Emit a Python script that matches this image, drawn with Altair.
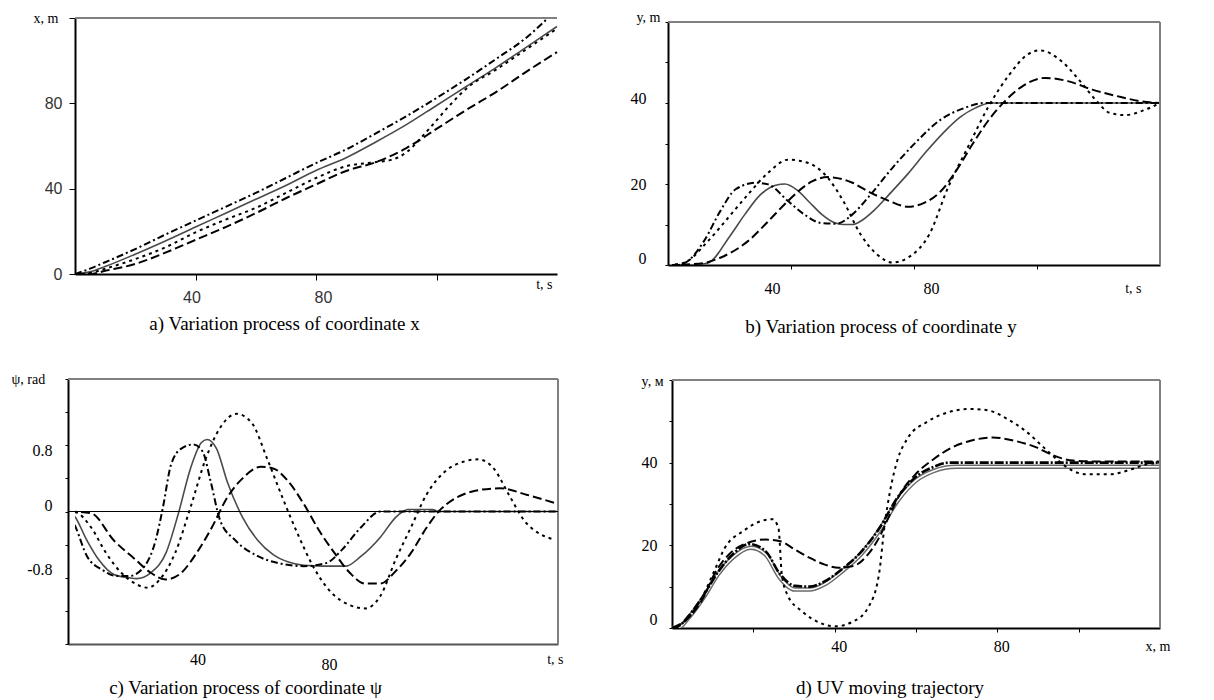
import altair as alt
import pandas as pd

SERIF = "Liberation Serif"
SANS = "Liberation Sans"

# ---------------- Panel a: x(t) ----------------
a_t = [0, 5, 10, 20, 30, 40, 50, 60, 70, 80, 90, 100, 110, 120, 130, 140, 150, 160]
a_ref = [0, 1, 3.5, 9.3, 15.5, 22, 28.5, 35, 41.5, 48.5, 54.5, 62, 70, 79, 88, 97, 106.5, 116]
a_ld = [0, 0, 1.5, 4.7, 10, 16, 22, 28.5, 35.5, 42, 48.3, 52.5, 59, 68, 77, 85.5, 95, 104]
a_dd_t = [0, 5, 10, 20, 30, 40, 50, 60, 70, 80, 90, 100, 110, 120, 130, 140, 150, 157]
a_dd = [0, 2.5, 5.5, 11.7, 18.5, 25, 31.5, 38, 45, 52, 58.4, 66, 74, 82.5, 91.5, 101, 111, 120]
a_dt_t = [0, 5, 10, 20, 30, 40, 50, 60, 70, 80, 90, 100, 105, 110, 115, 120, 125, 130, 140, 150, 160]
a_dt = [0, 0.5, 2.5, 7, 12.5, 19.5, 25.5, 31, 38, 45, 50.5, 52.5, 53.5, 57, 64, 72, 80, 87, 96, 105.5, 115]

# ---------------- Panel b: y(t) ----------------
b_ref_t = [0, 8, 13, 20, 25, 30, 35, 38, 42, 46, 50, 54, 57, 60, 63, 67, 72, 78, 84, 90, 95, 100, 105, 160]
b_ref = [0, 0, 0.5, 7, 12.5, 17.3, 19.7, 20, 18.5, 15.5, 12.5, 10.5, 10, 10, 11, 13.5, 17.5, 22.5, 28, 33, 36.5, 38.8, 40, 40]
b_dd_t = [0, 3, 6.5, 11.7, 17, 22, 28.7, 32.6, 39, 44.3, 49.6, 54.8, 60, 65, 73, 81, 88.7, 96.5, 103, 160]
b_dd = [0, 0, 1, 5.9, 13.3, 18.7, 20.3, 19.9, 15.8, 12.5, 10.4, 10.2, 12.5, 16.6, 24, 30.6, 35.9, 38.8, 40, 40]
b_ld_t = [0, 10, 17, 26, 32.6, 39, 47, 52, 60, 65, 72, 78, 83.5, 88.7, 94, 99, 104, 109.5, 115, 122.6, 130, 138, 146, 154, 160]
b_ld = [0, 0.3, 1.8, 5.9, 10.8, 15.8, 20.7, 21.7, 20.3, 18.2, 15.8, 14.4, 15.4, 18.2, 23.6, 29.8, 35.5, 40.4, 44, 46.2, 45.4, 43.3, 41.7, 40.4, 40]
b_dt_t = [0, 5, 13, 19.6, 26, 32.6, 39, 45.6, 52, 57, 62.6, 68, 73, 78, 85, 91, 98, 104, 111, 117, 121, 128, 134, 139.5, 143.5, 148.7, 154, 160]
b_dt = [0, 0.5, 5.9, 11.7, 17.4, 22.8, 26, 25.2, 21.5, 15.8, 7.6, 2.6, 0.6, 1.8, 7.6, 19, 29.8, 38.8, 47, 52, 53, 50.3, 45.4, 40.4, 37.6, 37, 38, 40]

# ---------------- Panel c: psi(t) ----------------
c_ref_t = [0, 2, 6.2, 10, 15, 20, 22.4, 27, 32, 36, 40, 43.5, 45.4, 48.5, 52, 57, 62, 67, 72, 77, 83, 90.7, 95.7, 102, 107, 109.4, 111, 119, 121, 160]
c_ref = [0, -0.05, -0.35, -0.58, -0.76, -0.8, -0.81, -0.74, -0.5, -0.03, 0.52, 0.83, 0.87, 0.76, 0.36, -0.07, -0.35, -0.52, -0.61, -0.65, -0.66, -0.66, -0.54, -0.31, -0.07, 0, 0.025, 0.025, 0, 0]
c_dd_t = [0, 2.5, 6.2, 11, 16, 20, 25, 28.6, 31, 33.6, 37, 41, 44, 46.6, 49.7, 54.7, 62, 69.6, 77, 84.5, 89.5, 95.7, 102, 160]
c_dd = [0, -0.19, -0.54, -0.7, -0.78, -0.78, -0.66, -0.35, 0.05, 0.56, 0.76, 0.81, 0.72, 0.36, -0.11, -0.35, -0.54, -0.63, -0.66, -0.62, -0.46, -0.19, 0, 0]
c_ld_t = [0, 7.5, 15, 22, 27, 32, 37, 42, 47, 52, 57, 63, 67, 72, 77, 82, 87, 92, 97, 102, 107, 112, 117, 121, 126, 133, 141, 150, 160]
c_ld = [0, -0.02, -0.35, -0.58, -0.74, -0.82, -0.74, -0.5, -0.19, 0.17, 0.4, 0.54, 0.52, 0.36, 0.09, -0.23, -0.5, -0.74, -0.87, -0.87, -0.72, -0.5, -0.2, 0, 0.15, 0.25, 0.28, 0.2, 0.09]
c_dt_t = [0, 2.5, 7.5, 12.4, 17.4, 22.4, 26, 30, 35, 40, 45, 50, 55, 60, 65, 70, 75, 80, 86, 92, 97, 102, 107, 112, 117, 123, 129, 134, 139, 144, 149, 154, 158]
c_dt = [0, -0.01, -0.19, -0.5, -0.74, -0.88, -0.92, -0.82, -0.5, 0.05, 0.64, 1.03, 1.18, 1.07, 0.64, 0.17, -0.27, -0.66, -0.98, -1.13, -1.17, -1.02, -0.58, -0.19, 0.2, 0.48, 0.6, 0.63, 0.52, 0.2, -0.11, -0.27, -0.33]

# ---------------- Panel d: trajectory y(x) ----------------
d_ref_x = [0, 1.4, 4, 7.7, 11.3, 14.9, 19.4, 23, 26.6, 30.2, 33.8, 37.4, 41.9, 46.4, 50.9, 55.4, 59.9, 64.4, 69.8, 120]
d_ref = [0, 0, 2.4, 7.3, 13, 17, 19.4, 17.8, 12.1, 9.3, 9.3, 10.5, 13.8, 17.8, 23.5, 30.7, 35.6, 38, 39, 39]
d_dd_x = [0, 1.4, 4, 7.7, 11.3, 14.9, 19, 23, 26.6, 30.2, 33.8, 37.4, 41.9, 46.4, 50.9, 55.4, 59.9, 64.4, 68, 120]
d_dd = [0, 0.3, 2.8, 7.8, 13.5, 17.8, 20.3, 18.6, 13, 10.2, 10, 11.2, 14.3, 18.3, 24, 31.5, 36.5, 39, 40, 40]
d_ld_x = [0, 4, 7.7, 10.4, 14, 17.6, 23, 26.6, 30.2, 33.8, 37.4, 41, 44.6, 48.2, 50.9, 53.6, 56.3, 59.9, 64.4, 68.9, 73.4, 78.8, 84.2, 89.6, 93.2, 98.6, 104, 120]
d_ld = [0, 2.4, 7.3, 13, 17.8, 20.2, 21.4, 21, 19, 17, 15.4, 14.6, 15, 17.8, 21.8, 27.5, 32.8, 37.2, 40.9, 43.7, 45.3, 46.1, 45.3, 43.7, 42, 40.5, 40.3, 40.3]
d_dt_x = [0, 4, 7.7, 10.4, 13, 17.6, 22, 24.8, 26.2, 27, 28.4, 32, 36.5, 40, 44.6, 48.2, 50.9, 52.3, 53.6, 55.4, 58, 62.6, 68, 73.4, 78, 82.4, 86.9, 91.4, 95, 98.6, 102, 107.7, 113, 116.7, 120]
d_dt = [0, 2.4, 8, 13.8, 19.4, 23.5, 25.9, 26.3, 24, 13, 8, 4, 1.2, 0.4, 1.6, 4.9, 13, 25, 33, 40.5, 46, 49.8, 52.2, 53, 52.6, 50.6, 47.7, 43.7, 40.5, 38, 37.2, 37.2, 38.4, 39.6, 40]

# axis / domain settings
t_domain = [0, 160]
a_ydomain = [0, 120]
b_ydomain = [0, 60]
c_ydomain = [-1.6, 1.6]
d_xdomain = [0, 120]
d_ydomain = [0, 60]

STY = {
    "ref": {"color": "#4a4a4a", "strokeWidth": 1.6},
    "dd": {"color": "black", "strokeWidth": 2.0, "strokeDash": [7, 3, 2, 3]},
    "ld": {"color": "black", "strokeWidth": 2.0, "strokeDash": [9, 4]},
    "dt": {"color": "black", "strokeWidth": 2.0, "strokeDash": [3, 4]},
}


def df_of(xs, ys):
    return pd.DataFrame({"x": xs, "y": ys})


def frame_df(xd, yd, right=True):
    rows = [{"x": xd[0], "x2": xd[1], "y": yd[1], "y2": yd[1]}]
    if right:
        rows.append({"x": xd[1], "x2": xd[1], "y": yd[0], "y2": yd[1]})
    return pd.DataFrame(rows)


def panel(series, xs, ys, xax, yax, frame, width, height, caption, extra=None):
    layers = []
    X = alt.X("x:Q", scale=xs, axis=xax)
    Y = alt.Y("y:Q", scale=ys, axis=yax)
    for xv, yv, st in series:
        layers.append(
            alt.Chart(df_of(xv, yv)).mark_line(interpolate="monotone", clip=True, **st).encode(x=X, y=Y)
        )
    layers.append(
        alt.Chart(frame).mark_rule(color="#808080", strokeWidth=2).encode(x=X, x2="x2:Q", y=Y, y2="y2:Q")
    )
    if extra is not None:
        layers.append(
            alt.Chart(extra).mark_rule(color="black", strokeWidth=1).encode(x=X, x2="x2:Q", y=Y, y2="y2:Q")
        )
    return alt.layer(*layers).properties(width=width, height=height, title=caption)


def cap(text, dx, offset):
    return alt.TitleParams(text=text, orient="bottom", anchor="middle", frame="group", dx=dx, offset=offset,
                           baseline="top", font=SERIF, fontSize=19, fontWeight="normal", color="black")


common_axis = dict(grid=False, domainColor="black", domainWidth=2, tickColor="black", tickWidth=1,
                   titleFontWeight="normal", titleAngle=0, titleBaseline="middle", titleColor="black",
                   titleFont=SERIF, titleFontSize=14, labelColor="black")

# ---- panel a ----
W1 = 483
W2 = 488
xa_axis = alt.Axis(values=[40, 80, 120], labelExpr="datum.value == 40 || datum.value == 80 ? datum.label : ''",
                   tickSize=6, labelPadding=9, labelFont=SANS, labelFontSize=16, labelColor="#333333",
                   labelOffset={"condition": {"test": "datum.value == 40", "value": -4}, "value": 7},
                   title="t, s", titleX=477, titleY=10, titleAlign="right",
                   **{k: v for k, v in common_axis.items() if k != "labelColor"})
ya_axis = alt.Axis(values=[0, 40, 80, 120], labelExpr="datum.value < 100 ? datum.label : ''",
                   tickSize=6, labelPadding=7, labelFont=SANS, labelFontSize=16, labelColor="#333333",
                   title="x, m", titleX=-17, titleY=0, titleAlign="right",
                   **{k: v for k, v in common_axis.items() if k != "labelColor"})
pa = panel([(a_t, a_ref, STY["ref"]), (a_dd_t, a_dd, STY["dd"]), (a_t, a_ld, STY["ld"]), (a_dt_t, a_dt, STY["dt"])],
           alt.Scale(domain=t_domain, range=[0, 482], nice=False, zero=False),
           alt.Scale(domain=a_ydomain, range=[256, 0], nice=False),
           xa_axis, ya_axis, frame_df(t_domain, a_ydomain, right=False), W1, 256,
           cap("a) Variation process of coordinate x", -32, 10))

# ---- panel b ----
xb_axis = alt.Axis(values=[40, 80, 120], labelExpr="datum.value == 40 || datum.value == 80 ? datum.label : ''",
                   tickSize=4, labelPadding=11, labelFont=SERIF, labelFontSize=16,
                   labelOffset={"condition": {"test": "datum.value == 40", "value": -19}, "value": 17},
                   title="t, s", titleX=469, titleY=23, titleAlign="right", **common_axis)
yb_axis = alt.Axis(values=[0, 10, 20, 30, 40, 50, 60], labelExpr="datum.value % 20 == 0 && datum.value < 60 ? datum.label : ''",
                   tickSize=3, labelPadding=19, labelFont=SERIF, labelFontSize=16, offset=4,
                   labelOffset={"condition": [{"test": "datum.value == 40", "value": -5},
                                              {"test": "datum.value == 0", "value": -7}], "value": 0},
                   title="y, m", titleX=-8, titleY=-1, titleAlign="right", **common_axis)
pb = panel([(b_ref_t, b_ref, STY["ref"]), (b_dd_t, b_dd, STY["dd"]), (b_ld_t, b_ld, STY["ld"]), (b_dt_t, b_dt, STY["dt"])],
           alt.Scale(domain=t_domain, range=[-4, 488], nice=False, zero=False),
           alt.Scale(domain=b_ydomain, range=[247, 4], nice=False),
           xb_axis, yb_axis, frame_df(t_domain, b_ydomain), W2, 247,
           cap("b) Variation process of coordinate y", -35, 22))

# ---- panel c ----
c_ticks = [-1.6, -1.2, -0.8, -0.4, 0, 0.4, 0.8, 1.2, 1.6]
xc_axis = alt.Axis(values=[40, 80], tickSize=0, labelFont=SERIF, labelFontSize=16,
                   labelOffset={"condition": {"test": "datum.value == 40", "value": 7}, "value": 16},
                   labelPadding={"condition": {"test": "datum.value == 40", "value": 7}, "value": 12},
                   title="t, s", titleX=488, titleY=15, titleAlign="right",
                   **{k: v for k, v in common_axis.items() if k != "domainColor"}, domainColor="#555555")
yc_axis = alt.Axis(values=c_ticks,
                   labelExpr="abs(datum.value-0.8)<0.01 ? '0.8' : abs(datum.value)<0.01 ? '0' : abs(datum.value+0.8)<0.01 ? '-0.8' : ''",
                   tickSize=3, labelPadding=13, labelFont=SERIF, labelFontSize=16, offset=7,
                   labelOffset={"condition": [{"test": "datum.value > 0.5", "value": 5},
                                              {"test": "datum.value < -0.5", "value": -8}], "value": -6},
                   title="ψ, rad", titleX=-57, titleY=0, titleAlign="left", **common_axis)
zero_df = pd.DataFrame({"x": [t_domain[0]], "x2": [t_domain[1]], "y": [0], "y2": [0]})
pc = panel([(c_ref_t, c_ref, STY["ref"]), (c_dd_t, c_dd, STY["dd"]), (c_ld_t, c_ld, STY["ld"]), (c_dt_t, c_dt, STY["dt"])],
           alt.Scale(domain=t_domain, range=[-7, 483], nice=False, zero=False),
           alt.Scale(domain=c_ydomain, range=[265, 0], nice=False, zero=False),
           xc_axis, yc_axis, frame_df(t_domain, c_ydomain), W1, 265,
           cap("c) Variation process of coordinate ψ", -71, 7), extra=zero_df)

# ---- panel d ----
xd_axis = alt.Axis(values=[20, 40, 60, 80, 100], labelExpr="datum.value == 40 || datum.value == 80 ? datum.label : ''",
                   tickSize=4, labelPadding=6, labelFont=SERIF, labelFontSize=16, labelOffset=4,
                   title="x, m", titleX=498, titleY=18, titleAlign="right", **common_axis)
yd_axis = alt.Axis(values=[0, 10, 20, 30, 40, 50, 60], labelExpr="datum.value % 20 == 0 && datum.value < 60 ? datum.label : ''",
                   tickSize=3, labelPadding=12, labelFont=SERIF, labelFontSize=16,
                   labelOffset={"condition": {"test": "datum.value == 0", "value": -9}, "value": 0},
                   title="y, м", titleX=-9, titleY=2, titleAlign="right", **common_axis)
d_ref_outer = {"color": "#6a6a6a", "strokeWidth": 4.5}
d_ref_inner = {"color": "white", "strokeWidth": 1.6}
d_dd_style = {"color": "black", "strokeWidth": 2.6, "strokeDash": [9, 2, 2, 2]}
pd_ = panel([(d_ref_x, d_ref, d_ref_outer), (d_ref_x, d_ref, d_ref_inner), (d_dd_x, d_dd, d_dd_style),
             (d_ld_x, d_ld, STY["ld"]), (d_dt_x, d_dt, STY["dt"])],
            alt.Scale(domain=d_xdomain, range=[0, 488], nice=False, zero=False),
            alt.Scale(domain=d_ydomain, range=[249, 1], nice=False),
            xd_axis, yd_axis, frame_df(d_xdomain, d_ydomain), W2, 249,
            cap("d) UV moving trajectory", -26, 25))

chart = alt.concat(pa, pb, pc, pd_, columns=2, spacing=alt.RowColnumber(row=105, column=114), bounds="flush").properties(
    padding={"left": 3, "top": 2, "right": 5, "bottom": 5}, background="white"
).configure_view(stroke=None)

chart.save("out.html", embed_options={"renderer": "svg", "actions": False})
